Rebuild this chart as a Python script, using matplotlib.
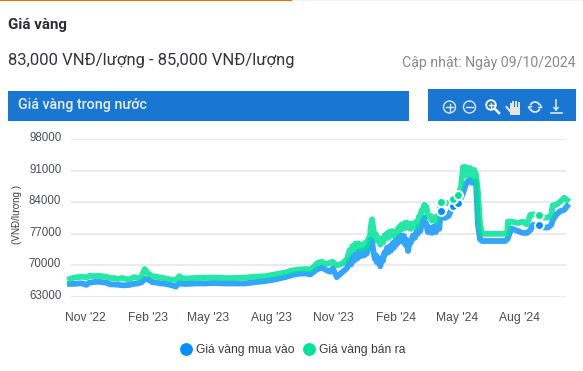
import pandas as pd
import matplotlib
matplotlib.use('Agg')
from matplotlib import pyplot as plt
import matplotlib.dates as mdates
from matplotlib.lines import Line2D
from matplotlib.patches import Rectangle, Circle, Arc
from matplotlib.transforms import ScaledTranslation

# so ngay tinh tu 09/10/2022
ngay = [0, 6, 12, 18, 24, 29, 35, 41, 47, 53, 59, 65, 71, 77, 82, 88, 94, 100, 106, 110,
        115, 121, 127, 133, 138, 144, 150, 156, 161, 166, 174, 184, 199, 214, 228, 243, 258, 273, 287, 302,
        317, 328, 339, 348, 354, 359, 365, 371, 377, 383, 387, 393, 401, 408,
        412, 414, 416, 418, 420, 423, 425, 428, 430, 433, 435, 437, 439, 442, 443, 445, 447, 449, 451, 452,
        455, 457, 459, 461, 463, 464, 467, 469, 471, 473, 475, 477, 479, 481, 484, 486, 488, 490, 492, 494,
        496, 498, 500, 502, 505, 508, 510, 512, 514, 516, 518, 520, 522, 523, 525, 527, 530, 533, 536, 539,
        541, 544,
        546, 552, 558, 564, 572, 576, 579, 581, 583, 586, 589, 592, 595, 598, 601, 604, 607, 641, 644, 645, 650,
        653, 660, 667, 673, 678, 682, 691, 698, 704, 709, 711, 716, 722, 728, 732]

# gia ban ra, nghin VND
ban_ra = [67.0, 67.3, 67.4, 67.5, 67.3, 67.7, 67.6, 67.7, 67.6, 67.5, 67.2, 67.2, 67.0, 67.2, 67.0, 66.9, 67.4, 67.2, 67.6, 69.2,
          68.2, 67.6, 67.5, 67.3, 67.2, 67.0, 66.8, 66.8, 67.6, 67.1, 67.1, 67.2, 67.3, 67.3, 67.2, 67.2, 67.3, 67.5, 67.6, 68.0,
          68.4, 68.9, 69.1, 69.2, 69.1, 69.7, 70.6, 70.8, 70.3, 70.6, 70.8, 70.0, 70.4, 71.4,
          73.4, 73.0, 74.3, 73.5, 74.8, 74.0, 74.9, 73.7, 74.6, 73.8, 75.0, 74.1, 75.7, 76.6, 78.5, 80.2, 77.9, 76.4, 76.8, 75.5,
          75.9, 74.6, 75.8, 75.1, 76.6, 75.9, 77.1, 76.1, 77.5, 76.6, 77.6, 76.5, 77.5, 77.0, 78.4, 77.7, 79.0, 78.1, 79.3, 78.3,
          79.5, 78.4, 79.2, 78.1, 79.3, 78.5, 79.7, 79.0, 80.8, 80.8, 82.2, 82.2, 83.4, 82.6, 83.0, 81.0, 81.0, 79.9, 80.7, 79.7,
          80.9, 81.0,
          84.0, 83.8, 83.8, 84.6, 85.5, 87.5, 91.8, 90.0, 91.8, 89.8, 91.6, 89.6, 91.2, 90.2, 86.0, 79.0, 77.0, 77.0, 77.0, 79.7, 79.7,
          79.6, 79.4, 79.7, 79.1, 81.2, 81.3, 81.2, 80.6, 80.6, 81.2, 83.3, 83.4, 84.1, 85.0, 84.5]

# gia mua vao, nghin VND
mua_vao = [65.9, 65.9, 66.0, 66.0, 65.7, 66.2, 66.3, 66.4, 66.3, 66.2, 65.8, 65.8, 65.7, 65.6, 65.6, 65.7, 65.9, 66.0, 66.3, 67.0,
           66.9, 66.3, 66.2, 66.0, 66.0, 65.8, 65.6, 65.3, 66.1, 65.9, 65.9, 66.0, 66.0, 66.1, 66.0, 66.0, 66.0, 66.3, 66.5, 66.9,
           67.4, 67.9, 68.2, 68.2, 68.0, 68.6, 69.2, 69.5, 69.0, 68.6, 69.4, 67.4, 68.5, 69.4,
           71.2, 70.2, 71.9, 71.0, 72.4, 71.5, 73.0, 72.0, 73.3, 72.2, 73.5, 72.6, 74.2, 74.8, 75.8, 75.2, 73.0, 71.4, 72.2, 70.7,
           71.6, 69.8, 71.6, 71.0, 72.8, 72.4, 73.9, 72.9, 74.2, 73.3, 74.9, 73.9, 75.4, 74.6, 76.4, 75.3, 76.6, 75.3, 76.5, 74.6,
           75.6, 73.2, 75.4, 75.0, 76.6, 76.1, 77.4, 77.0, 78.6, 77.6, 79.4, 79.4, 80.6, 79.0, 79.2, 77.4, 78.4, 77.2, 78.6, 77.4,
           78.9, 78.1,
           82.0, 80.5, 81.0, 83.2, 83.8, 85.0, 86.0, 87.0, 87.9, 88.6, 89.0, 88.3, 88.6, 88.6, 79.0, 75.8, 75.4, 75.4, 75.8, 76.0, 78.2,
           78.0, 77.6, 77.2, 77.2, 77.8, 79.0, 79.0, 78.4, 78.4, 79.0, 80.0, 81.2, 82.0, 82.3, 83.1]

cham = [546, 564, 572, 691]
gia_tick = [63000, 70000, 77000, 84000, 91000, 98000]
thang_tick = ['2022-11-01', '2023-02-01', '2023-05-01', '2023-08-01',
              '2023-11-01', '2024-02-01', '2024-05-01', '2024-08-01']

W, H = 583, 371
BLUE = '#008ffb'
GREEN = '#00e396'
BAR = '#1976d2'

plt.rcParams['font.family'] = ['Roboto', 'DejaVu Sans']

df = pd.DataFrame({'ngay': ngay, 'ban': ban_ra, 'mua': mua_vao})
df['date'] = pd.Timestamp('2022-10-09') + pd.to_timedelta(df['ngay'], unit='D')
df['ban'] *= 1000
df['mua'] *= 1000

fig = plt.figure(figsize=(W / 100, H / 100), dpi=100)
ax = fig.add_axes([71 / W, 1 - 297 / H, 495 / W, 158 / H])

ax.plot(df['date'], df['mua'], color=BLUE, lw=4.2, alpha=0.8, clip_on=False,
        solid_joinstyle='round', zorder=3)
ax.plot(df['date'], df['ban'], color=GREEN, lw=4.2, alpha=0.85, clip_on=False,
        solid_joinstyle='round', zorder=4)

diem = df[df['ngay'].isin(cham)]
ax.plot(diem['date'], diem['mua'], 'o', ms=6.4, mfc=BLUE, mec='white', mew=1.4, zorder=5, clip_on=False)
ax.plot(diem['date'], diem['ban'], 'o', ms=6.4, mfc=GREEN, mec='white', mew=1.4, zorder=6, clip_on=False)

start = pd.Timestamp('2022-10-09')
ax.set_xlim(start + pd.Timedelta(days=1.47), start + pd.Timedelta(days=730.6))
ax.set_ylim(63000, 98000)
ax.set_yticks(gia_tick)
ax.set_xticks(pd.to_datetime(thang_tick))
ax.xaxis.set_major_formatter(mdates.DateFormatter("%b '%y"))
ax.grid(axis='y', color='#e6e6e6', lw=1.1)
ax.set_axisbelow(True)
for s in ax.spines.values():
    s.set_visible(False)
ax.tick_params(length=0)
ax.tick_params(axis='x', pad=11, labelsize=8.7, labelcolor='#4a4f52')
ax.tick_params(axis='y', pad=7, labelsize=8.3, labelcolor='#4a4f52')
for t in ax.get_xticklabels() + ax.get_yticklabels():
    t.set_fontfamily('Liberation Sans')
# nhan truc y nam cao hon duong luoi mot chut
nhich = ScaledTranslation(0, 2.5 / 100, fig.dpi_scale_trans)
for t in ax.get_yticklabels():
    t.set_transform(t.get_transform() + nhich)

# legend
handles = [Line2D([], [], ls='', marker='o', ms=8.2, color=BLUE),
           Line2D([], [], ls='', marker='o', ms=8.2, color=GREEN)]
fig.legend(handles, ['Giá vàng mua vào', 'Giá vàng bán ra'], ncol=2, frameon=False,
           loc='center', bbox_to_anchor=(291 / W, 1 - 350 / H),
           prop={'family': 'Liberation Sans', 'size': 8.7}, labelcolor='#373d3f',
           handletextpad=0.0, columnspacing=0.45, handlelength=1.6)

# phan dau trang, toa do pixel
ui = fig.add_axes([0, 0, 1, 1], zorder=-1)
ui.set_xlim(0, W)
ui.set_ylim(H, 0)
ui.axis('off')
ui.add_patch(Rectangle((0, 0), 292, 1.2, color='#ef6c00', lw=0))
ui.add_patch(Rectangle((292, 0), W - 292, 1.2, color='#f0f0f5', lw=0))
ui.add_patch(Rectangle((8, 91), 401, 30, color=BAR, lw=0))
ui.add_patch(Rectangle((428, 89), 148, 32, color=BAR, lw=0))

ui.text(8, 25, 'Giá vàng', fontsize=10.9, fontweight='bold', color='#2b2d33', va='center')
ui.text(8, 61, '83,000 VNĐ/lượng - 85,000 VNĐ/lượng', fontsize=12.0, color='#33353a', va='center')
ui.text(575.5, 63, 'Cập nhật: Ngày 09/10/2024', fontsize=10.2, color='#8a8a8a', va='center', ha='right')
ui.text(18, 105, 'Giá vàng trong nước', fontsize=10.3, fontweight='medium', color='#e8f1fb', va='center')
ui.text(17, 215, '(VNĐ/lượng )', fontsize=7.1, rotation=90, color='#373d3f', va='center', ha='center',
        family=['Liberation Sans', 'DejaVu Sans'])

# icon toolbar
ic = '#dfeaf7'
ui.add_patch(Circle((449.5, 107), 6, fill=False, ec=ic, lw=1))
ui.plot([446, 453], [107, 107], color=ic, lw=1)
ui.plot([449.5, 449.5], [103.5, 110.5], color=ic, lw=1)
ui.add_patch(Circle((469.5, 107), 6, fill=False, ec=ic, lw=1))
ui.plot([466, 473], [107, 107], color=ic, lw=1)
ui.add_patch(Circle((491, 105), 4.8, fill=False, ec='white', lw=1.3))
ui.plot([494.5, 499], [108.5, 113], color='white', lw=1.8)
ui.plot([488.5, 493.5], [105, 105], color='white', lw=1)
ui.plot([491, 491], [102.5, 107.5], color='white', lw=1)
# main
for fx, top in zip([509.5, 512.3, 515.1, 517.9], [103, 101, 100.5, 102]):
    ui.add_patch(Rectangle((fx, top), 2.1, 8, color='#e4e4e4', lw=0))
ui.add_patch(Rectangle((509.5, 107), 10.5, 7.5, color='#e4e4e4', lw=0))
ui.plot([506.5, 510], [107, 111], color='#e4e4e4', lw=1.5)
ui.add_patch(Arc((535, 107), 10, 10, theta1=200, theta2=340, color=ic, lw=1.3))
ui.add_patch(Arc((535, 107), 10, 10, theta1=20, theta2=160, color=ic, lw=1.3))
ui.plot([540, 541.8, 538.6], [104.5, 107.5, 107.5], color=ic, lw=1)
ui.plot([530, 528.4, 531.6], [109.5, 106.7, 106.7], color=ic, lw=1)
ui.plot([556, 556], [100, 110], color=ic, lw=1.2)
ui.plot([553.7, 556, 558.3], [107.5, 110, 107.5], color=ic, lw=1)
ui.plot([550.5, 561.5], [113, 113], color=ic, lw=1.2)

fig.savefig('out.png', dpi=100)
